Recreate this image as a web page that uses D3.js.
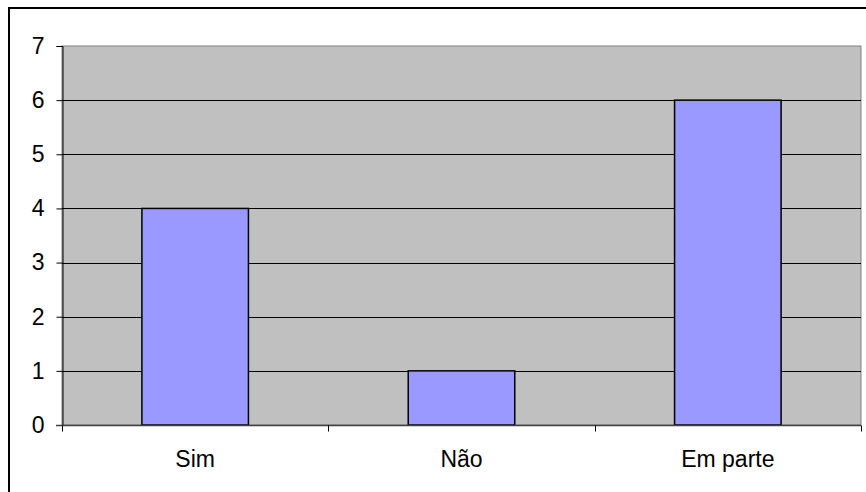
<!DOCTYPE html>
<html>
<head>
<meta charset="utf-8">
<script src="https://cdn.jsdelivr.net/npm/d3@7"></script>
<style>
  html, body { margin: 0; padding: 0; background: #fff; }
  svg { display: block; font-family: "Liberation Sans", Arial, sans-serif; }
</style>
</head>
<body>
<svg id="chart" width="866" height="492"></svg>
<script>
const categories = ["Sim", "Não", "Em parte"];
const values = [4, 1, 6];
const yTicks = [0, 1, 2, 3, 4, 5, 6, 7];

const svg = d3.select("#chart");
const plot = { left: 62, top: 46, right: 861, bottom: 425 };
const fontSize = "23px";

// Outer frame
svg.append("rect")
  .attr("x", 9).attr("y", 8)
  .attr("width", 866).attr("height", 500)
  .attr("fill", "none").attr("stroke", "#000").attr("stroke-width", 2);

const x = d3.scaleBand().domain(categories).range([plot.left, plot.right]).padding(0);
const y = d3.scaleLinear().domain([0, 7]).range([plot.bottom, plot.top]);

// Plot background
svg.append("rect")
  .attr("x", plot.left).attr("y", plot.top)
  .attr("width", plot.right - plot.left).attr("height", plot.bottom - plot.top)
  .attr("fill", "#c0c0c0").attr("stroke", "#808080").attr("stroke-width", 1);

// Horizontal gridlines
svg.append("g").selectAll("line")
  .data(yTicks.filter(t => t > 0 && t < 7))
  .join("line")
  .attr("x1", plot.left).attr("x2", plot.right)
  .attr("y1", d => Math.round(y(d)) + 0.5).attr("y2", d => Math.round(y(d)) + 0.5)
  .attr("stroke", "#000").attr("stroke-width", 1);

// Bars
const barW = x.bandwidth() * 0.4;
svg.append("g").selectAll("rect")
  .data(values)
  .join("rect")
  .attr("x", (d, i) => x(categories[i]) + (x.bandwidth() - barW) / 2)
  .attr("y", d => y(d))
  .attr("width", barW)
  .attr("height", d => y(0) - y(d))
  .attr("fill", "#9999ff")
  .attr("stroke", "#000").attr("stroke-width", 1.5);

// Y axis
const yAxis = d3.axisLeft(y).tickValues(yTicks).tickSize(6).tickPadding(12).tickFormat(d3.format("d"));
const gy = svg.append("g").attr("transform", `translate(${plot.left + 0.5},0)`).call(yAxis);
gy.attr("font-size", null).attr("font-family", null);
gy.select(".domain").attr("stroke", "#000");
gy.selectAll(".tick line").attr("stroke", "#000");
gy.selectAll(".tick text").style("font-size", fontSize).attr("fill", "#000");

// X axis with ticks at category boundaries
const gx = svg.append("g").attr("transform", `translate(0,${plot.bottom + 0.5})`);
gx.append("line")
  .attr("x1", plot.left - 6).attr("x2", plot.right)
  .attr("stroke", "#404040").attr("stroke-width", 1.5);
const bounds = categories.map(c => x(c)).concat([plot.right]);
gx.selectAll("line.b")
  .data(bounds)
  .join("line").attr("class", "b")
  .attr("x1", d => Math.round(d) + 0.5).attr("x2", d => Math.round(d) + 0.5)
  .attr("y1", 0).attr("y2", 6)
  .attr("stroke", "#000");
gx.selectAll("text")
  .data(categories)
  .join("text")
  .attr("x", d => x(d) + x.bandwidth() / 2)
  .attr("y", 41.5)
  .attr("text-anchor", "middle")
  .style("font-size", fontSize)
  .attr("fill", "#000")
  .text(d => d);
</script>
</body>
</html>
